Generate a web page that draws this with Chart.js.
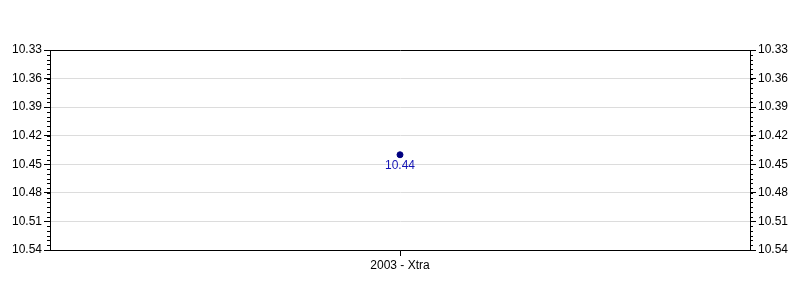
<!DOCTYPE html>
<html>
<head>
<meta charset="utf-8">
<script src="https://cdn.jsdelivr.net/npm/chart.js@4/dist/chart.umd.min.js"></script>
<style>
  html, body { margin: 0; padding: 0; background: #fff; }
  #wrap { width: 800px; height: 300px; }
</style>
</head>
<body>
<div id="wrap"><canvas id="chart"></canvas></div>
<script>
const categories = ['2003 - Xtra'];
const values = [10.44];
const yMin = 10.33;
const yMax = 10.54;
const majorStep = 0.03;
const minorStep = 0.005;

const font = { family: 'Arial, "Liberation Sans", sans-serif', size: 12 };

// minor ticks on both y axes + value label under the point
const extras = {
    id: 'extras',
    afterDraw(chart) {
        const ctx = chart.ctx;
        const area = chart.chartArea;
        const y = chart.scales.y;
        ctx.save();
        ctx.strokeStyle = '#000';
        ctx.lineWidth = 1;
        ctx.beginPath();
        const n = Math.round((yMax - yMin) / minorStep);
        for (let i = 0; i <= n; i++) {
            const py = Math.round(y.getPixelForValue(yMin + i * minorStep)) + 0.5;
            ctx.moveTo(area.left - 3, py);
            ctx.lineTo(area.left, py);
            ctx.moveTo(area.right, py);
            ctx.lineTo(area.right + 3, py);
        }
        ctx.stroke();

        const meta = chart.getDatasetMeta(0);
        ctx.fillStyle = '#1414b4';
        ctx.font = '12px ' + font.family;
        ctx.textAlign = 'center';
        ctx.textBaseline = 'top';
        meta.data.forEach((pt, i) => {
            ctx.fillText(values[i].toFixed(2), pt.x, pt.y + 5);
        });
        ctx.restore();
    }
};

const yTicks = {
    stepSize: majorStep,
    color: '#000',
    font: font,
    padding: 2,
    callback: v => v.toFixed(2)
};

new Chart(document.getElementById('chart'), {
    type: 'line',
    data: {
        labels: categories,
        datasets: [{
            data: values,
            showLine: false,
            pointRadius: 3,
            pointBackgroundColor: '#000080',
            pointBorderColor: '#000080',
            yAxisID: 'y'
        }]
    },
    options: {
        responsive: true,
        maintainAspectRatio: false,
        animation: false,
        layout: { padding: { top: 50, left: 0, right: 0, bottom: 0 } },
        plugins: {
            legend: { display: false },
            tooltip: { enabled: false }
        },
        scales: {
            x: {
                offset: true,
                border: { color: '#000' },
                grid: { drawOnChartArea: false, tickLength: 6, color: '#000' },
                ticks: { color: '#000', font: font, padding: 2 },
                afterFit: s => { s.height = 50; }
            },
            y: {
                position: 'left',
                reverse: true,
                min: yMin,
                max: yMax,
                border: { color: '#000' },
                grid: {
                    tickLength: 6,
                    tickColor: '#000',
                    color: c => (c.index === 0 || c.index === c.scale.ticks.length - 1) ? '#000' : '#dcdcdc'
                },
                ticks: yTicks,
                afterFit: s => { s.width = 50; }
            },
            y2: {
                position: 'right',
                reverse: true,
                min: yMin,
                max: yMax,
                border: { color: '#000' },
                grid: { drawOnChartArea: false, tickLength: 6, color: '#000' },
                ticks: yTicks,
                afterFit: s => { s.width = 50; }
            }
        }
    },
    plugins: [extras]
});
</script>
</body>
</html>
